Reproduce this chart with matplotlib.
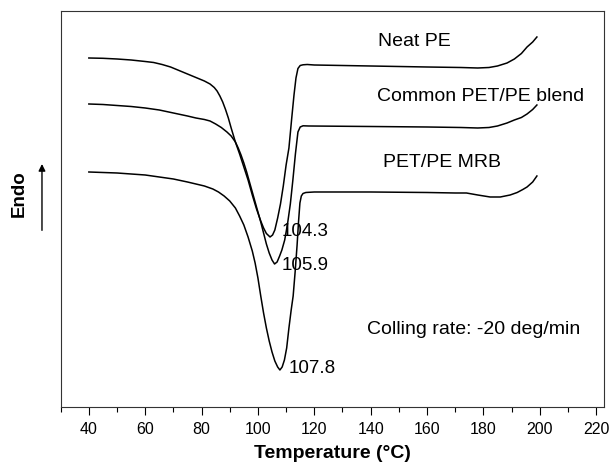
import matplotlib
matplotlib.use('Agg')
import matplotlib.pyplot as plt

plt.rcParams['font.family'] = ['Liberation Sans', 'DejaVu Sans']

# DSC-Kühlkurven (Wärmestrom in willkürlichen Einheiten, endo nach oben)
neat_pe_temp = [40, 45, 50, 55, 60, 63, 66, 69, 72, 75, 78, 81, 83, 84.5, 85.5, 86.5, 87.5, 88.5, 89.5, 90.5,
                92, 93.5, 95, 96.5, 98, 99.5, 101, 102, 103, 104.3, 105.2, 106, 107, 108, 109, 110, 111, 112,
                112.8, 113.5, 114.2, 115, 116, 117.5, 120, 140, 160, 172, 178, 182, 185, 188.4, 191,
                193.5, 195.5, 197.5, 199]
neat_pe_flow = [-58, -58.3, -59, -60, -61.5, -62.5, -64.5, -67, -70.5, -74, -77.5, -81, -84, -87.5, -91, -96, -102, -109.5, -118, -128,
                -142, -154, -167, -180, -195, -209, -221, -228, -233.5, -237, -235, -230, -218, -204, -186, -165, -148, -118,
                -95, -78, -68.5, -65.5, -64.8, -64.5, -65, -66, -67, -67.5, -68, -67.5, -66, -63, -59,
                -53.5, -47, -42, -37]

blend_temp = [40, 45, 50, 55, 60, 65, 70, 75, 78, 81, 83, 85, 87, 89, 90.5, 92, 93, 94, 95, 96,
              97, 98, 99, 100, 101, 102, 103, 104, 105, 105.9, 106.8, 107.7, 108.5, 109.5, 110.5, 111.5,
              112.4, 113.3, 114.2, 115, 116, 118, 140, 160, 172, 178, 182, 185, 188.4, 191, 193.5,
              195.5, 197.5, 199]
blend_flow = [-104, -104.5, -105.5, -106.5, -108, -110, -113, -116, -118, -119.5, -121, -124, -127.5, -132, -136, -142, -148, -155, -163, -172,
              -182, -192, -202, -212, -222, -233, -244, -253, -260, -264, -262, -256, -250, -240, -224, -204,
              -180, -154, -132, -127, -125.8, -126, -126.5, -127, -127.5, -128, -127.5, -126, -123, -120, -117.5,
              -114, -109.5, -105]

mrb_temp = [40, 45, 50, 55, 60, 65, 70, 75, 78, 81, 84, 86, 88, 90, 92, 93.5, 95, 96.5, 98, 99,
            100, 101, 102, 103, 104, 105, 106, 107, 107.8, 108.6, 109.4, 110.2, 111, 111.8, 112.5, 113.2,
            113.9, 114.4, 114.9, 115.4, 116, 117, 120, 140, 160, 170, 174, 178, 182.4, 186, 189.5, 192,
            194, 195.5, 197.5, 199]
mrb_flow = [-172, -172.5, -173, -174, -175, -177, -179, -182, -184, -186, -189, -192, -196, -201, -208, -216, -225, -237, -251, -263,
            -278, -296, -313, -328, -341, -352, -361, -367, -370, -367, -360, -348, -328, -310, -296, -272,
            -245, -222, -203, -196, -193.5, -192.5, -192, -192, -192.5, -193, -193, -195, -197, -197, -195, -192.5,
            -189.5, -187, -182, -176]

curve_names = ['Neat PE', 'Common PET/PE blend', 'PET/PE MRB']
peak_labels = ['104.3', '105.9', '107.8']

fig, ax = plt.subplots(figsize=(6.11, 4.70), dpi=100)
fig.subplots_adjust(left=0.0993, right=0.9885, bottom=0.1347, top=0.9766)

for temp, flow in [(neat_pe_temp, neat_pe_flow), (blend_temp, blend_flow), (mrb_temp, mrb_flow)]:
    ax.plot(temp, flow, color='black', lw=1.1)

# Kurvennamen und Peak-Temperaturen
ax.text(142.6, -42, curve_names[0], fontsize=14, ha='left', va='center')
ax.text(142.3, -97, curve_names[1], fontsize=14, ha='left', va='center')
ax.text(144.4, -163, curve_names[2], fontsize=14, ha='left', va='center')
ax.text(108.5, -232, peak_labels[0], fontsize=13.5, ha='left', va='center')
ax.text(108.5, -266, peak_labels[1], fontsize=13.5, ha='left', va='center')
ax.text(111.0, -369, peak_labels[2], fontsize=13.5, ha='left', va='center')
ax.text(138.7, -330, 'Colling rate: -20 deg/min', fontsize=14, ha='left', va='center')

ax.set_xlim(30, 222.8)
ax.set_ylim(-406.7, -11)
ax.set_xticks(range(40, 221, 20))
ax.set_xticks(range(30, 221, 10), minor=True)
ax.set_yticks([])
ax.tick_params(axis='x', which='major', direction='out', length=5.8, width=0.8, labelsize=11.5, pad=5)
ax.tick_params(axis='x', which='minor', direction='out', length=3.6, width=0.8)
for s in ax.spines.values():
    s.set_linewidth(0.8)
    s.set_color('#333333')

ax.set_xlabel('Temperature (°C)', fontsize=14, fontweight='bold', labelpad=6)

# "Endo" mit Pfeil nach oben
fig.text(0.031, 0.588, 'Endo', rotation=90, fontsize=13.5, fontweight='bold', ha='center', va='center')
ax.annotate('', xy=(0.0687, 0.657), xytext=(0.0687, 0.504), xycoords='figure fraction',
            arrowprops=dict(arrowstyle='-|>', color='black', lw=1, mutation_scale=10))

plt.savefig('out.png', dpi=100)
plt.clf()
